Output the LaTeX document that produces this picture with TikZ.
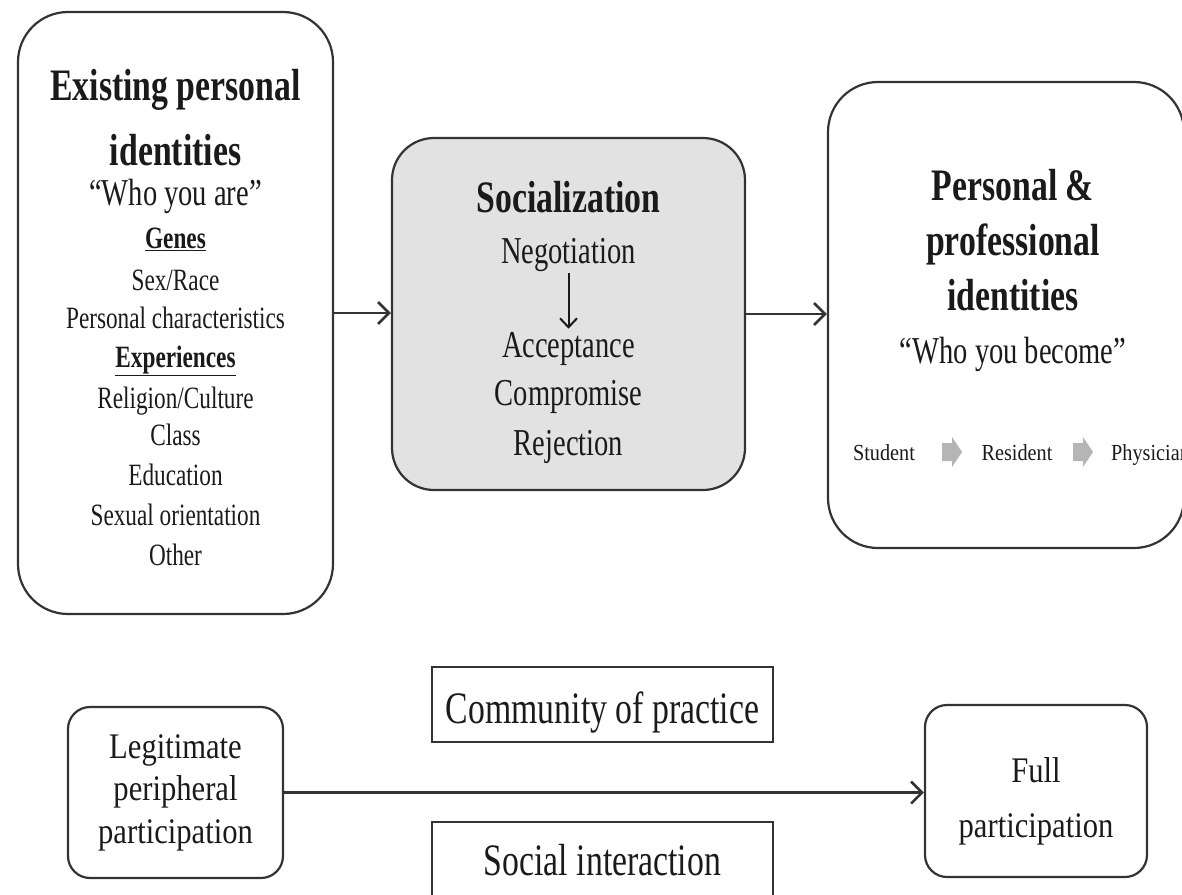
\documentclass[tikz,border=0pt]{standalone}
\usepackage{fontspec}
\setmainfont{Liberation Serif}
\newfontfamily\condfont[FakeStretch=0.75]{Liberation Serif}
\newfontfamily\semifont[FakeStretch=0.85]{Liberation Serif}
\newfontfamily\rowfont[FakeStretch=0.88]{Liberation Serif}
\usetikzlibrary{arrows.meta}

\definecolor{linegray}{HTML}{333333}
\definecolor{boxfill}{HTML}{E2E2E2}
\definecolor{stepgray}{HTML}{B5B5B5}
\definecolor{ink}{HTML}{1A1A1A}

% font sizes used in the diagram (1pt = 1px of the figure)
\newcommand\ttlfont{\condfont\bfseries\fontsize{45}{50}\selectfont}
\newcommand\quotefont{\condfont\fontsize{38}{44}\selectfont}
\newcommand\listfont{\condfont\fontsize{31}{36}\selectfont}
\newcommand\bigfont{\condfont\fontsize{45}{50}\selectfont}
\newcommand\partfont{\semifont\fontsize{36}{42}\selectfont}
\newcommand\stagefont{\rowfont\fontsize{23}{27}\selectfont}
\newcommand\ulword[1]{\underline{#1}}

\begin{document}
\begin{tikzpicture}[x=1pt,y=-1pt,
  frame/.style={draw=linegray, line width=2.2pt, inner sep=0pt},
  bigframe/.style={frame, rounded corners=50pt},
  smallframe/.style={frame, rounded corners=22pt},
  txt/.style={anchor=base, inner sep=0pt, text=ink},
  conn/.style={draw=linegray, line width=2.8pt, -{Straight Barb[length=11pt,width=22pt,line width=2.6pt]}},
  innerconn/.style={draw=ink, line width=2pt, -{Straight Barb[length=9pt,width=17pt,line width=2pt]}},
  stepcue/.style={fill=stepgray, draw=none}
]
\useasboundingbox (0,0) rectangle (1182,894);

% ---- upper row: three stages of identity formation ----
\node[bigframe, minimum width=315, minimum height=602] (ident) at (175.5,313) {};
\node[frame, rounded corners=42pt, fill=boxfill, minimum width=353, minimum height=352] (social) at (568.5,314) {};
\node[bigframe, minimum width=356, minimum height=466] (become) at (1006,315) {};

% existing identities
\node[txt, font=\ttlfont] (t1) at (175.5,100) {Existing personal};
\node[txt, font=\ttlfont] (t2) at (175.5,165) {identities};
\node[txt, font=\quotefont] (t3) at (175.5,205) {“Who you are”};
\node[txt, font=\listfont\bfseries] (t4) at (175.5,248) {\ulword{Genes}};
\node[txt, font=\listfont] (t5) at (175.5,290) {Sex/Race};
\node[txt, font=\listfont] (t6) at (175.5,328) {Personal characteristics};
\node[txt, font=\listfont\bfseries] (t7) at (175.5,367) {\ulword{Experiences}};
\node[txt, font=\listfont] (t8) at (175.5,408) {Religion/Culture};
\node[txt, font=\listfont] (t9) at (175.5,445) {Class};
\node[txt, font=\listfont] (t10) at (175.5,485) {Education};
\node[txt, font=\listfont] (t11) at (175.5,525) {Sexual orientation};
\node[txt, font=\listfont] (t12) at (175.5,565) {Other};

% socialization
\node[txt, font=\ttlfont] (s1) at (568.5,212) {Socialization};
\node[txt, font=\quotefont] (nego) at (568.5,263) {Negotiation};
\node[txt, font=\quotefont] (accept) at (568.5,357) {Acceptance};
\node[txt, font=\quotefont] (s3) at (568.5,405) {Compromise};
\node[txt, font=\quotefont] (s4) at (568.5,455) {Rejection};
\draw[innerconn, shorten <=2pt, shorten >=3pt] (nego.south) -- (accept.north);

% resulting identities
\node[txt, font=\ttlfont] (b1) at (1013,200) {Personal \&};
\node[txt, font=\ttlfont] (b2) at (1013,255) {professional};
\node[txt, font=\ttlfont] (b3) at (1013,310) {identities};
\node[txt, font=\quotefont] (b4) at (1013,363) {“Who you become”};
\node[txt, font=\stagefont] (stu) at (884,460) {Student};
\coordinate (cue1) at (952,452);
\node[txt, font=\stagefont] (res) at (1017,460) {Resident};
\coordinate (cue2) at (1083,452);
\node[txt, font=\stagefont, anchor=base west] (phy) at (1111,460) {Physician};

% grey block arrows between career stages
\foreach \c in {cue1,cue2}
  \fill[stepcue, shift={(\c)}] (-10,-9) -- (0,-9) -- (0,-15) -- (10,0) -- (0,15) -- (0,9) -- (-10,9) -- cycle;

\draw[conn] (ident.east) -- (social.west |- ident.east);
\draw[conn] (social.east) -- (become.west |- social.east);

% ---- lower row: community of practice ----
\node[smallframe, minimum width=215, minimum height=171] (lpp) at (175.5,792.5) {};
\node[smallframe, minimum width=222, minimum height=172] (full) at (1036,791) {};
\node[frame, minimum width=341, minimum height=75] (cop) at (602.5,704.5) {};
\node[frame, minimum width=341, minimum height=76] (sint) at (602.5,860) {};

\node[txt, font=\partfont] (l1) at (175.5,758) {Legitimate};
\node[txt, font=\partfont] (l2) at (175.5,800) {peripheral};
\node[txt, font=\partfont] (l3) at (175.5,843) {participation};
\node[txt, font=\partfont] (f1) at (1036,782) {Full};
\node[txt, font=\partfont] (f2) at (1036,837) {participation};
\node[txt, font=\bigfont] (c1) at (602.5,723) {Community of practice};
\node[txt, font=\bigfont] (c2) at (602.5,875) {Social interaction};

\draw[conn] (lpp.east) -- (full.west |- lpp.east);
\end{tikzpicture}
\end{document}
